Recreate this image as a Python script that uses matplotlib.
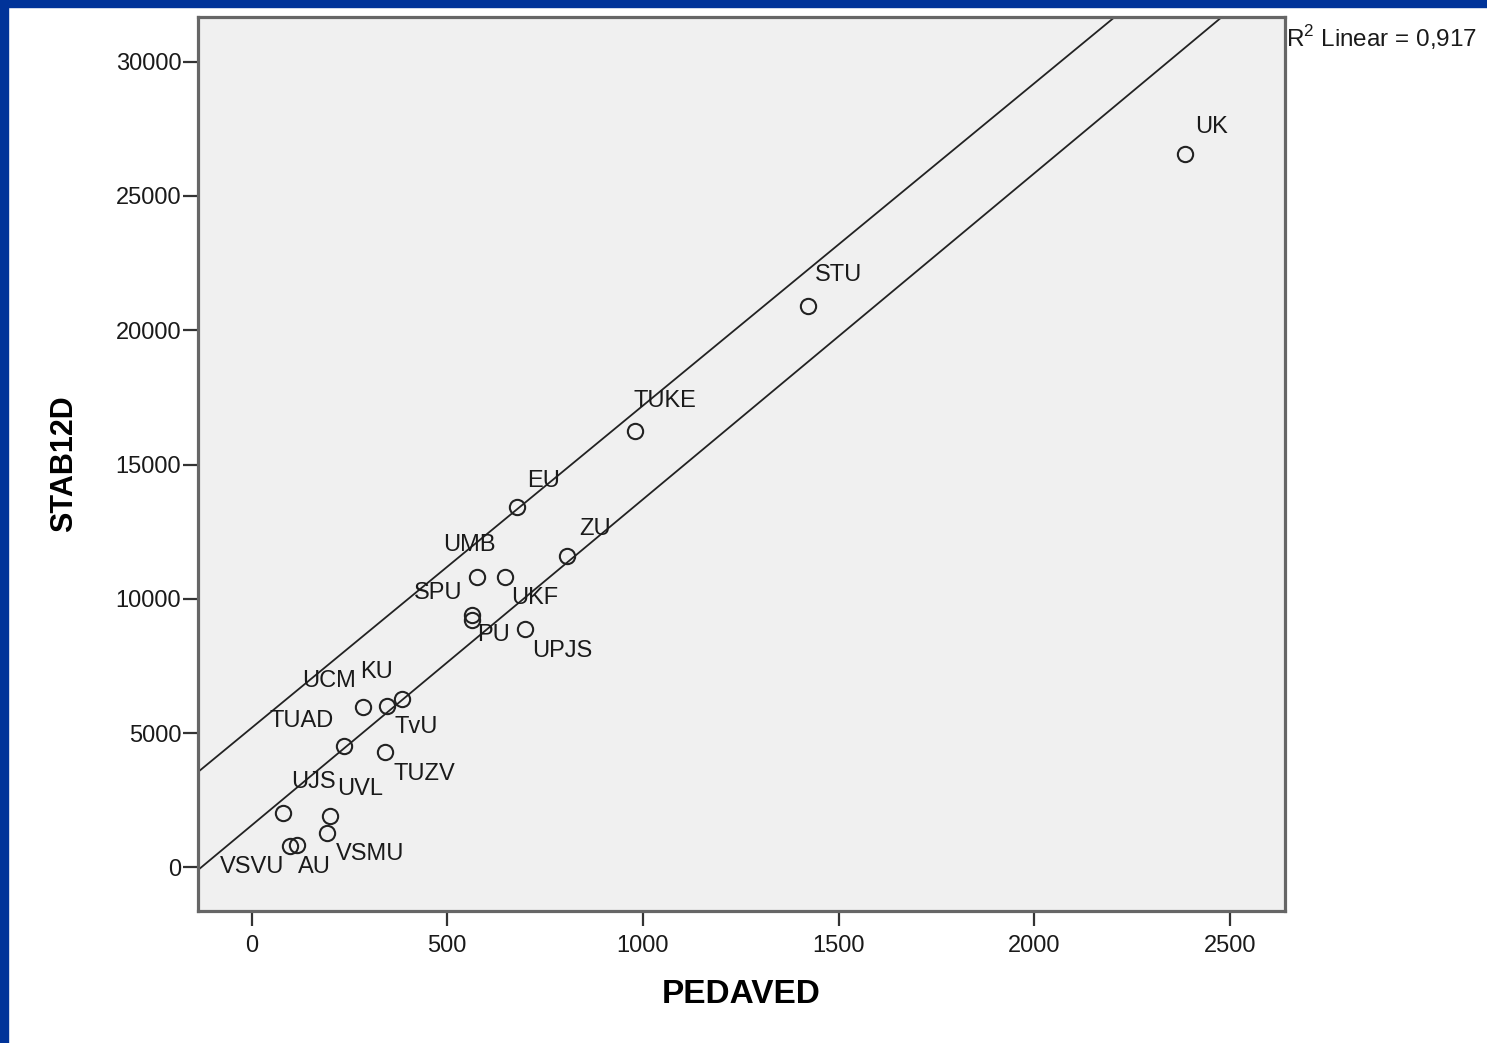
"""Scatter of STAB12D against PEDAVED, SPSS style."""
import matplotlib
matplotlib.use("Agg")
import matplotlib.pyplot as plt
from matplotlib.patches import Rectangle

plt.rcParams["font.family"] = ["Liberation Sans", "DejaVu Sans"]
plt.rcParams["mathtext.fontset"] = "custom"
plt.rcParams["mathtext.rm"] = "Liberation Sans"

# schools
names = ["UK", "STU", "TUKE", "EU", "ZU", "UMB", "UKF", "SPU", "PU", "UPJS",
         "UCM", "TvU", "KU", "TUAD", "TUZV", "UJS", "UVL", "VSMU", "VSVU", "AU"]
pedaved = [2385, 1422, 980, 679, 806, 575, 647, 564, 564, 698,
           285, 345, 385, 237, 341, 81, 200, 192, 98, 117]
stab12d = [26560, 20900, 16240, 13420, 11590, 10820, 10820, 9400, 9210, 8860,
           5960, 6010, 6260, 4520, 4280, 2010, 1910, 1290, 790, 820]

# label placement around each point (pixels, right / up)
label_dx = [27, 30, 30, 26, 28, -7, 30, -34, 21, 38,
            -34, 30, -26, -43, 39, 30, 30, 43, -38, 17]
label_dy = [27, 31, 30, 26, 27, 32, -21, 22, -15, -22,
            26, -21, 27, 25, -22, 31, 27, -21, -21, -22]

# the two reference lines (intercept, slope)
line_intercepts = [5193, 1562]
line_slopes = [12.0, 12.14]

x_ticks = [0, 500, 1000, 1500, 2000, 2500]
y_ticks = [0, 5000, 10000, 15000, 20000, 25000, 30000]
r2_text = "R$^2$ Linear = 0,917"

fig = plt.figure(figsize=(14.87, 10.43), dpi=100)
fig.patch.set_facecolor("white")
ax = fig.add_axes([198 / 1487, 1 - 911 / 1043, 1087 / 1487, 894 / 1043])
ax.set_facecolor("#f0f0f0")

ax.set_xlim(-137, 2641)
ax.set_ylim(-1627, 31665)

for b, m in zip(line_intercepts, line_slopes):
    ax.axline((0, b), slope=m, color="#222222", lw=1.3, zorder=2)

ax.plot(pedaved, stab12d, "o", ms=11, mfc="none", mec="#222222", mew=1.5, zorder=3)

for n, x, y, dx, dy in zip(names, pedaved, stab12d, label_dx, label_dy):
    ax.annotate(n, (x, y), xytext=(dx, dy), textcoords="offset pixels",
                ha="center", va="center", fontsize=17, color="#1a1a1a", zorder=4)

ax.set_xticks(x_ticks)
ax.set_yticks(y_ticks)
ax.tick_params(axis="both", direction="out", length=11, width=1.6, color="#333333",
               labelsize=17, labelcolor="#1a1a1a")
ax.tick_params(axis="x", pad=6)
ax.tick_params(axis="y", pad=1)
for s in ax.spines.values():
    s.set_color("#666666")
    s.set_linewidth(2.3)

ax.set_xlabel("PEDAVED", fontsize=24, fontweight="bold", labelpad=16)
ax.set_ylabel("STAB12D", fontsize=22, fontweight="bold", labelpad=26)

fig.text(1286 / 1487, 1 - 38 / 1043, r2_text, fontsize=17.5, ha="left", va="center",
         color="#1a1a1a")

# blue slide frame
fig.patches.append(Rectangle((0, 1 - 7 / 1043), 1, 7 / 1043, transform=fig.transFigure,
                             color="#003399", zorder=10))
fig.patches.append(Rectangle((0, 0), 8 / 1487, 1, transform=fig.transFigure,
                             color="#003399", zorder=10))

fig.savefig("out.png", dpi=100)
